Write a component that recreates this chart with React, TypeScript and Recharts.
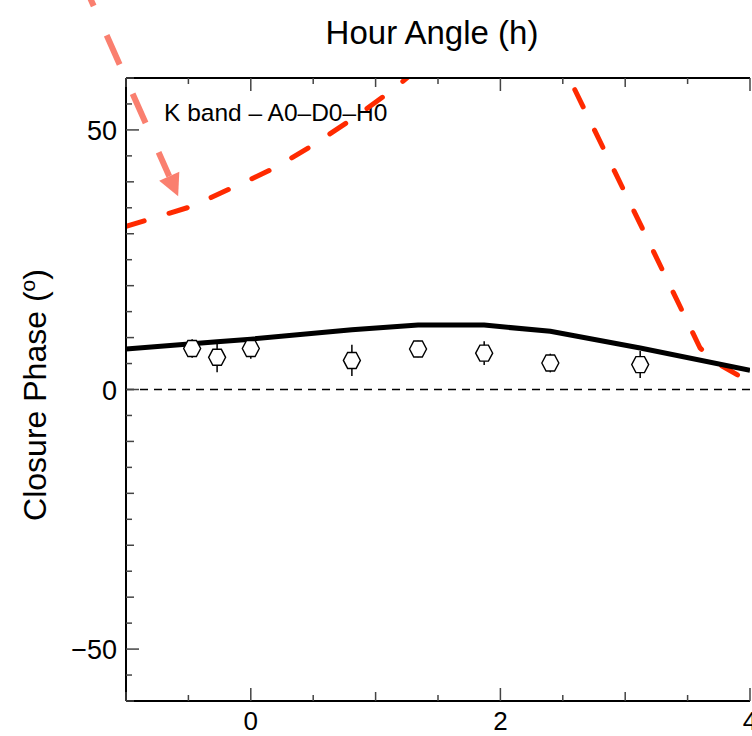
import {
  ComposedChart,
  Customized,
  ErrorBar,
  Line,
  ReferenceLine,
  Scatter,
  XAxis,
  YAxis,
} from "recharts";

// hour angle ticks (h) and closure phase ticks (deg)
const hourTicks = [-1, -0.5, 0, 0.5, 1, 1.5, 2, 2.5, 3, 3.5, 4];
const hourLabels = [0, 2, 4];
const phaseTicks = [
  -60, -55, -50, -45, -40, -35, -30, -25, -20, -15, -10, -5, 0, 5, 10, 15, 20,
  25, 30, 35, 40, 45, 50, 55, 60,
];
const phaseLabels = [-50, 0, 50];

// measured closure phases
const obsHour = [-0.47, -0.27, 0.0, 0.81, 1.34, 1.87, 2.4, 3.12];
const obsPhase = [7.9, 6.2, 7.9, 5.6, 7.8, 7.0, 5.1, 4.8];
const obsErr = [1.8, 2.9, 2.0, 3.0, 1.6, 2.3, 1.8, 2.6];

// best model (solid black)
const modelHour = [-1, -0.47, -0.27, 0, 0.81, 1.34, 1.87, 2.4, 3.12, 4];
const modelPhase = [7.8, 8.8, 9.2, 9.7, 11.5, 12.4, 12.4, 11.2, 8.0, 3.7];

// alternative model (red dashed), runs off the top between ~1.3h and ~2.5h
const altHour = [-1, -0.47, 0, 0.2, 0.5, 0.82, 1.13, 1.5, 2.0, 2.5, 3.12, 3.6, 3.68, 3.75, 3.9];
const altPhase = [31.4, 35.3, 40.5, 42.8, 47.1, 52.2, 57.6, 65, 72, 62.5, 31.9, 8.0, 6.3, 4.9, 2.8];

// annotation arrow (data coords)
const arrowFrom = { x: -1.363, y: 79.5 };
const arrowTo = { x: -0.582, y: 37.2 };

const obsData = obsHour.map((h, i) => ({ h, v: obsPhase[i], err: obsErr[i] }));
const modelData = modelHour.map((h, i) => ({ h, v: modelPhase[i] }));
const altData = altHour.map((h, i) => ({ h, v: altPhase[i] }));

const FONT = "'Liberation Sans', Arial, Helvetica, sans-serif";
const TICK = "#444";
const RED = "#ff2a00";
const SALMON = "#fa7f6f";

const xLen = (v: number) => (v % 2 === 0 ? 13 : Number.isInteger(v) ? 9 : 6);
const yLen = (v: number) => (v % 50 === 0 ? 13 : v % 10 === 0 ? 8 : 6);

const BottomTick = (p: any) => {
  const v = p.payload.value;
  return (
    <g>
      <line x1={p.x} y1={p.y} x2={p.x} y2={p.y - xLen(v)} stroke={TICK} strokeWidth={1.5} />
      {hourLabels.includes(v) && (
        <text x={p.x} y={p.y + 29} textAnchor="middle" fontSize={26} fontFamily={FONT} fill="#000">
          {v}
        </text>
      )}
    </g>
  );
};

const TopTick = (p: any) => (
  <line x1={p.x} y1={p.y} x2={p.x} y2={p.y + xLen(p.payload.value)} stroke={TICK} strokeWidth={1.5} />
);

const LeftTick = (p: any) => {
  const v = p.payload.value;
  return (
    <g>
      <line x1={p.x} y1={p.y} x2={p.x + yLen(v)} y2={p.y} stroke={TICK} strokeWidth={1.5} />
      {phaseLabels.includes(v) && (
        <text x={p.x - 9} y={p.y + 10} textAnchor="end" fontSize={27} fontFamily={FONT} fill="#000">
          {v < 0 ? `\u2212${Math.abs(v)}` : v}
        </text>
      )}
    </g>
  );
};

const RightTick = (p: any) => (
  <line x1={p.x} y1={p.y} x2={p.x - yLen(p.payload.value)} y2={p.y} stroke={TICK} strokeWidth={1.5} />
);

const Hexagon = (p: any) => {
  const { cx, cy } = p;
  const r = 8.5;
  const hh = 8;
  const pts = [
    [cx - r, cy],
    [cx - r / 2, cy - hh],
    [cx + r / 2, cy - hh],
    [cx + r, cy],
    [cx + r / 2, cy + hh],
    [cx - r / 2, cy + hh],
  ]
    .map((q) => q.join(","))
    .join(" ");
  return <polygon points={pts} fill="#fff" stroke="#000" strokeWidth={1.4} />;
};

const Arrow = (p: any) => {
  const { x1, y1, x2, y2 } = p;
  const len = Math.hypot(x2 - x1, y2 - y1);
  const ux = (x2 - x1) / len;
  const uy = (y2 - y1) / len;
  const head = 22;
  const half = 11;
  const bx = x2 - ux * head;
  const by = y2 - uy * head;
  return (
    <g>
      <line x1={x1} y1={y1} x2={bx} y2={by} stroke={SALMON} strokeWidth={6} strokeDasharray="32 32" />
      <polygon
        points={`${x2},${y2} ${bx - uy * half},${by + ux * half} ${bx + uy * half},${by - ux * half}`}
        fill={SALMON}
      />
    </g>
  );
};

const Texts = () => (
  <g fontFamily={FONT} fill="#000">
    <text x={432} y={44} textAnchor="middle" fontSize={33}>
      Hour Angle (h)
    </text>
    <text x={164} y={121} fontSize={24.5}>
      K band – A0–D0–H0
    </text>
    <text x={46} y={395} textAnchor="middle" fontSize={32} transform="rotate(-90, 46, 395)">
      Closure Phase (
      <tspan dy={-11} fontSize={21}>
        o
      </tspan>
      <tspan dy={11}>)</tspan>
    </text>
  </g>
);

export default function App() {
  return (
    <div style={{ position: "absolute", left: 0, top: 0, background: "#fff" }}>
      <ComposedChart width={752} height={736} margin={{ top: 0, right: 2, bottom: 0, left: 0 }}>
        <XAxis
          xAxisId="b"
          type="number"
          dataKey="h"
          domain={[-1, 4]}
          allowDataOverflow
          ticks={hourTicks}
          interval={0}
          height={35}
          tickSize={0}
          tickMargin={0}
          tickLine={false}
          tick={BottomTick}
          axisLine={{ stroke: "#000", strokeWidth: 2 }}
        />
        <XAxis
          xAxisId="t"
          orientation="top"
          type="number"
          dataKey="h"
          domain={[-1, 4]}
          allowDataOverflow
          ticks={hourTicks}
          interval={0}
          height={78}
          tickSize={0}
          tickMargin={0}
          tickLine={false}
          tick={TopTick}
          axisLine={{ stroke: "#000", strokeWidth: 2 }}
        />
        <YAxis
          yAxisId="l"
          type="number"
          dataKey="v"
          domain={[-60, 60]}
          allowDataOverflow
          ticks={phaseTicks}
          interval={0}
          width={126}
          tickSize={0}
          tickMargin={0}
          tickLine={false}
          tick={LeftTick}
          axisLine={{ stroke: "#000", strokeWidth: 2 }}
        />
        <YAxis
          yAxisId="r"
          orientation="right"
          type="number"
          dataKey="v"
          domain={[-60, 60]}
          allowDataOverflow
          ticks={phaseTicks}
          interval={0}
          width={0}
          tickSize={0}
          tickMargin={0}
          tickLine={false}
          tick={RightTick}
          axisLine={{ stroke: "#000", strokeWidth: 2 }}
        />
        <ReferenceLine
          xAxisId="t"
          yAxisId="r"
          y={0}
          stroke="#000"
          strokeWidth={1.3}
          strokeDasharray="8 6"
        />
        <Line
          xAxisId="b"
          yAxisId="l"
          data={altData}
          dataKey="v"
          type="linear"
          stroke={RED}
          strokeWidth={5}
          strokeDasharray="19 26"
          strokeLinecap="round"
          dot={false}
          isAnimationActive={false}
        />
        <Line
          xAxisId="b"
          yAxisId="l"
          data={modelData}
          dataKey="v"
          type="linear"
          stroke="#000"
          strokeWidth={5}
          dot={false}
          isAnimationActive={false}
        />
        <Scatter
          xAxisId="b"
          yAxisId="l"
          data={obsData}
          dataKey="v"
          shape={Hexagon}
          isAnimationActive={false}
        >
          <ErrorBar dataKey="err" direction="y" width={0} stroke="#000" strokeWidth={1.5} />
        </Scatter>
        <ReferenceLine
          xAxisId="b"
          yAxisId="l"
          segment={[arrowFrom, arrowTo]}
          ifOverflow="visible"
          shape={Arrow}
        />
        <Customized component={Texts} />
      </ComposedChart>
    </div>
  );
}
